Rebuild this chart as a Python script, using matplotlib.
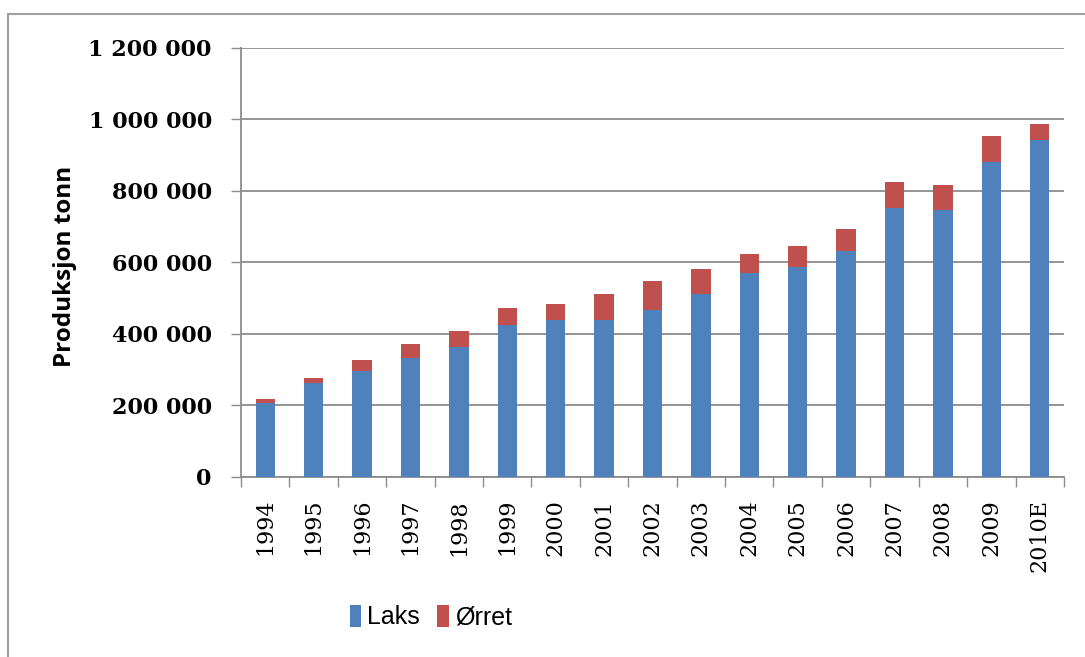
import matplotlib.pyplot as plt
import numpy as np
from matplotlib.patches import Rectangle

years = ["1994", "1995", "1996", "1997", "1998", "1999", "2000", "2001", "2002",
         "2003", "2004", "2005", "2006", "2007", "2008", "2009", "2010E"]
laks = [205000, 262000, 297000, 333000, 363000, 423000, 439000, 437000, 465000,
        512000, 571000, 586000, 630000, 752000, 746000, 881000, 941000]
orret = [11000, 14000, 29000, 37000, 45000, 50000, 43000, 75000, 82000,
         70000, 53000, 58000, 64000, 72000, 71000, 73000, 46000]
y_ticks = [0, 200000, 400000, 600000, 800000, 1000000, 1200000]

BLUE = "#4F81BD"
RED = "#C0504D"
GREY = "#8C8C8C"

fig = plt.figure(figsize=(10.85, 6.57), dpi=100)
fig.patch.set_facecolor("white")

# outer chart frame (only top and left edges are visible)
fig.add_artist(Rectangle((0.0075, -0.05), 1.1, 1.05 - 0.0215, transform=fig.transFigure,
                         fill=False, edgecolor="#A0A0A0", lw=1.5))

ax = fig.add_axes([0.2221, 0.2744, 0.7585, 0.653])
x = np.arange(len(years))
ax.bar(x, laks, width=0.4, color=BLUE, label="Laks", zorder=3)
ax.bar(x, orret, width=0.4, bottom=laks, color=RED, label="Ørret", zorder=3)

ax.set_xlim(-0.5, len(years) - 0.5)
ax.set_ylim(0, 1200000)
ax.set_yticks(y_ticks)
ax.set_yticklabels([f"{v:,}".replace(",", " ") for v in y_ticks],
                   family="DejaVu Serif", fontweight="bold", fontsize=16)
ax.yaxis.grid(True, color=GREY, lw=1.3, zorder=0)

# category boundaries get the tick marks, labels sit in the middle
ax.set_xticks(np.arange(len(years) + 1) - 0.5)
ax.set_xticklabels([])
ax.set_xticks(x, minor=True)
ax.set_xticklabels(years, minor=True, rotation=90, family="DejaVu Serif", fontsize=16)
ax.tick_params(axis="x", which="major", length=7, width=1, color=GREY, direction="out")
ax.tick_params(axis="x", which="minor", length=0, pad=16)
ax.tick_params(axis="y", length=7, width=1, color=GREY, direction="out", pad=14)

for side in ("top", "right"):
    ax.spines[side].set_visible(False)
for side in ("left", "bottom"):
    ax.spines[side].set_color(GREY)
    ax.spines[side].set_linewidth(1.3)

fig.text(0.06, 0.595, "Produksjon tonn", rotation=90, ha="center", va="center",
         family="Open Sans", fontweight="bold", fontsize=17.5)

fig.legend(loc="center", bbox_to_anchor=(0.397, 0.061), ncol=2, frameon=False,
           prop={"family": ["Liberation Sans Narrow", "Liberation Sans"], "size": 18},
           handlelength=0.45, handleheight=1.0, handletextpad=0.25, columnspacing=0.7)

fig.savefig("out.png", dpi=100)
